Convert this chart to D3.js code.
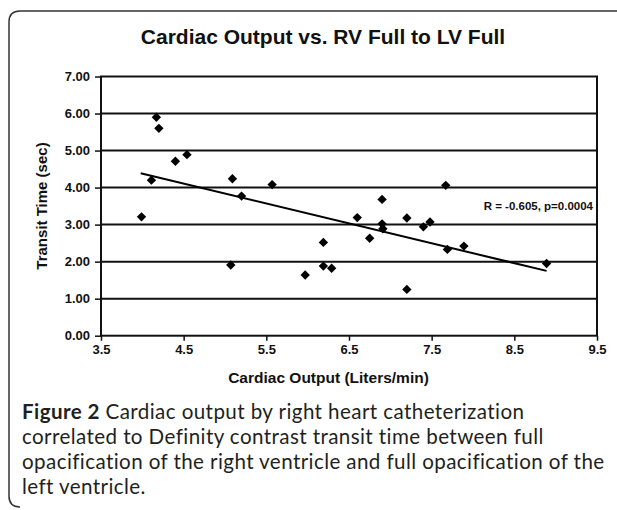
<!DOCTYPE html>
<html>
<head>
<meta charset="utf-8">
<script src="https://cdn.jsdelivr.net/npm/d3@7/dist/d3.min.js"></script>
<style>
  html, body { margin: 0; padding: 0; background: #fff; }
  svg { display: block; }
</style>
</head>
<body>
<svg id="chart" width="617" height="510"></svg>
<script>
// ---- Data ----
const cardiacOutput = [3.99, 4.11, 4.17, 4.20, 4.40, 4.54, 5.09, 5.20, 5.57, 5.07,
                       5.97, 6.19, 6.19, 6.29, 6.60, 6.75, 6.90, 6.90, 6.91, 7.20,
                       7.20, 7.40, 7.48, 7.67, 7.69, 7.89, 8.89];
const transitTime  = [3.21, 4.20, 5.90, 5.60, 4.71, 4.89, 4.24, 3.77, 4.08, 1.91,
                       1.64, 2.52, 1.88, 1.82, 3.19, 2.63, 3.68, 3.02, 2.89, 3.18,
                       1.25, 2.94, 3.07, 4.06, 2.33, 2.42, 1.95];
const trendX = [3.98, 8.89];
const trendY = [4.385, 1.75];
const xTicks = [3.5, 4.5, 5.5, 6.5, 7.5, 8.5, 9.5];
const yTicks = [0, 1, 2, 3, 4, 5, 6, 7];
const chartTitle = "Cardiac Output vs. RV Full to LV Full";
const xTitle = "Cardiac Output (Liters/min)";
const yTitle = "Transit Time (sec)";
const statsText = "R = -0.605, p=0.0004";
const captionBold = "Figure 2";
const captionLines = [
  " Cardiac output by right heart catheterization",
  "correlated to Definity contrast transit time between full",
  "opacification of the right ventricle and full opacification of the",
  "left ventricle."
];

// ---- Drawing ----
const svg = d3.select("#chart");
svg.append("rect").attr("width", 617).attr("height", 510).attr("fill", "#fff");

// outer frame (rounded left corners, open to the right)
const r = 11;
svg.append("path")
  .attr("d", `M 620 11 L ${9 + r} 11 Q 9 11 9 ${11 + r} L 9 ${507 - r} Q 9 507 ${9 + r} 507`)
  .attr("fill", "none").attr("stroke", "#333").attr("stroke-width", 1.5);

const x = d3.scaleLinear().domain([3.5, 9.5]).range([101, 597]);
const y = d3.scaleLinear().domain([0, 7]).range([335.7, 76.5]);

// gridlines
svg.append("g").selectAll("line").data(yTicks.slice(1, -1)).join("line")
  .attr("x1", x(3.5)).attr("x2", x(9.5))
  .attr("y1", d => y(d)).attr("y2", d => y(d))
  .attr("stroke", "#111").attr("stroke-width", 2);

// plot border
svg.append("rect")
  .attr("x", x(3.5)).attr("y", y(7))
  .attr("width", x(9.5) - x(3.5)).attr("height", y(0) - y(7))
  .attr("fill", "none").attr("stroke", "#111").attr("stroke-width", 2);

// axes
const yAxis = svg.append("g").attr("transform", `translate(${x(3.5)},0)`)
  .call(d3.axisLeft(y).tickValues(yTicks).tickFormat(d3.format(".2f")).tickSize(6).tickPadding(5));
const xAxis = svg.append("g").attr("transform", `translate(0,${y(0)})`)
  .call(d3.axisBottom(x).tickValues(xTicks).tickFormat(d3.format(".1f")).tickSize(5).tickPadding(4));
[yAxis, xAxis].forEach(g => {
  g.select(".domain").remove();
  g.selectAll(".tick line").attr("stroke", "#111").attr("stroke-width", 1.5);
  g.selectAll("text").attr("fill", "#111")
    .style("font-family", "'Liberation Sans', Arial, sans-serif")
    .style("font-weight", "bold").style("font-size", "13px");
});

// trend line
svg.append("line")
  .attr("x1", x(trendX[0])).attr("y1", y(trendY[0]))
  .attr("x2", x(trendX[1])).attr("y2", y(trendY[1]))
  .attr("stroke", "#000").attr("stroke-width", 2);

// points
const pts = cardiacOutput.map((v, i) => [v, transitTime[i]]);
svg.append("g").selectAll("path").data(pts).join("path")
  .attr("d", d3.symbol(d3.symbolSquare, 44))
  .attr("transform", d => `translate(${x(d[0])},${y(d[1])}) rotate(45)`)
  .attr("fill", "#000");

// stats text
svg.append("text").attr("x", 593).attr("y", 210).attr("text-anchor", "end")
  .style("font-family", "'Liberation Sans', Arial, sans-serif")
  .style("font-weight", "bold").style("font-size", "11.5px").attr("fill", "#111")
  .text(statsText);

// titles
svg.append("text").attr("x", 323).attr("y", 44).attr("text-anchor", "middle")
  .style("font-family", "'Liberation Sans', Arial, sans-serif")
  .style("font-weight", "bold").style("font-size", "21px").attr("fill", "#111")
  .text(chartTitle);

svg.append("text").attr("x", 328.5).attr("y", 383).attr("text-anchor", "middle")
  .style("font-family", "'Liberation Sans', Arial, sans-serif")
  .style("font-weight", "bold").style("font-size", "15.5px").attr("fill", "#111")
  .text(xTitle);

svg.append("text").attr("transform", "translate(47,206) rotate(-90)").attr("text-anchor", "middle")
  .style("font-family", "'Liberation Sans', Arial, sans-serif")
  .style("font-weight", "bold").style("font-size", "15px").attr("fill", "#111")
  .text(yTitle);

// caption: one text element per line
captionLines.forEach((line, i) => {
  const t = svg.append("text").attr("x", 22).attr("y", 419 + i * 25)
    .style("font-family", "Lato, 'Open Sans', sans-serif")
    .style("font-size", "20.6px").style("letter-spacing", "0.4px").attr("fill", "#231f20");
  if (i === 0) {
    t.append("tspan").style("font-weight", "bold").text(captionBold);
    t.append("tspan").text(line);
  } else {
    t.text(line);
  }
});
</script>
</body>
</html>
